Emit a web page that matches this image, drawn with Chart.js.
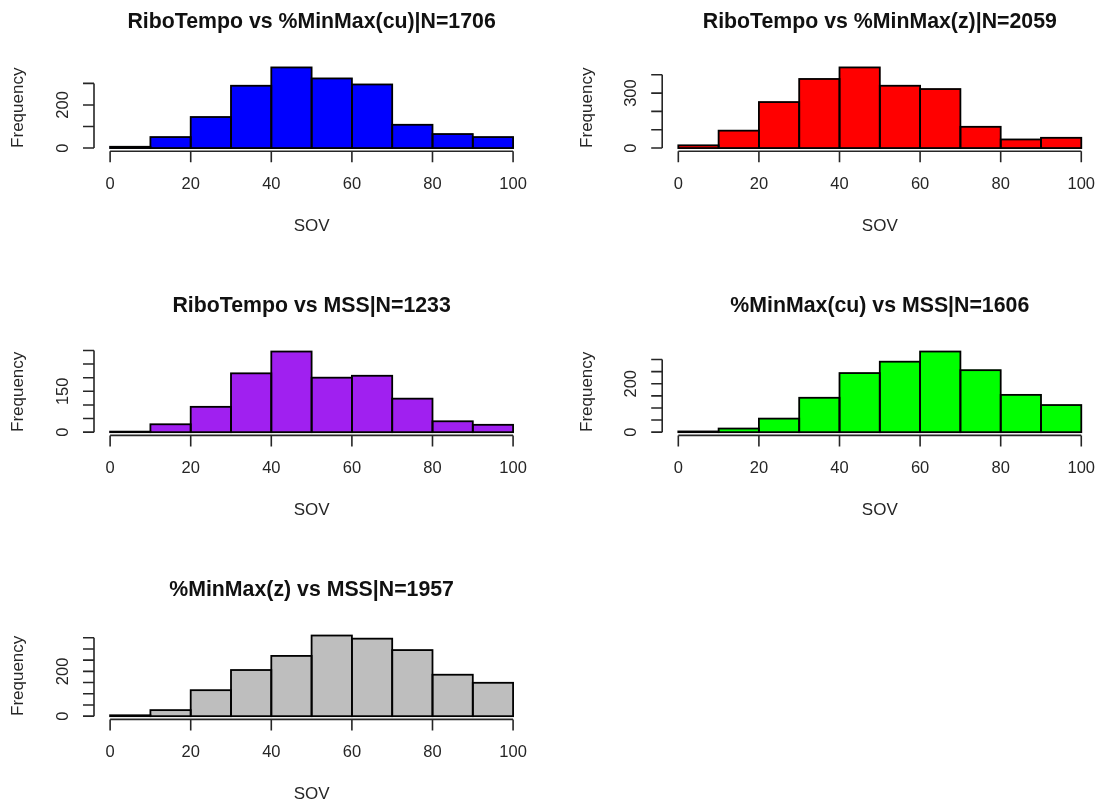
<!DOCTYPE html>
<html>
<head>
<meta charset="utf-8">
<title>SOV histograms</title>
<script src="https://cdn.jsdelivr.net/npm/chart.js@4.4.1/dist/chart.umd.min.js"></script>
<style>
  html, body { margin: 0; padding: 0; background: #ffffff; }
  #wrap { position: relative; width: 1100px; height: 805px; overflow: hidden; background: #ffffff; }
  #wrap canvas { position: absolute; left: 0; top: 0; }
</style>
</head>
<body>
<div id="wrap"></div>
<script>
// ---- data ---------------------------------------------------------------
// SOV bins (left edges, width 10)
const binStarts = [0, 10, 20, 30, 40, 50, 60, 70, 80, 90];
const binWidth = 10;
const xTicks = [0, 20, 40, 60, 80, 100];

const titles = [
  "RiboTempo vs %MinMax(cu)|N=1706",
  "RiboTempo vs %MinMax(z)|N=2059",
  "RiboTempo vs MSS|N=1233",
  "%MinMax(cu) vs MSS|N=1606",
  "%MinMax(z) vs MSS|N=1957"
];

const countsCuRibo  = [6, 51, 144, 289, 374, 323, 295, 108, 65, 51];
const countsZRibo   = [15, 95, 251, 377, 440, 340, 322, 116, 47, 56];
const countsMssRibo = [2, 29, 93, 216, 296, 200, 207, 123, 40, 27];
const countsMssCu   = [3, 15, 56, 142, 244, 291, 333, 256, 154, 112];
const countsMssZ    = [4, 27, 116, 206, 269, 360, 346, 295, 185, 149];

const yTicksCuRibo  = [0, 100, 200, 300];
const yTicksZRibo   = [0, 100, 200, 300, 400];
const yTicksMssRibo = [0, 50, 100, 150, 200, 250, 300];
const yTicksMssCu   = [0, 50, 100, 150, 200, 250, 300];
const yTicksMssZ    = [0, 50, 100, 150, 200, 250, 300, 350];

const yLabelsCuRibo  = [0, 200];
const yLabelsZRibo   = [0, 300];
const yLabelsMssRibo = [0, 150];
const yLabelsMssCu   = [0, 200];
const yLabelsMssZ    = [0, 200];

const fills = ["#0000FF", "#FF0000", "#A020F0", "#00FF00", "#BEBEBE"];

const xTitle = "SOV";
const yTitle = "Frequency";

// ---- layout (plot regions on the 1100x805 page) -------------------------
const W = 1100, H = 805;
const cols = [[94.0, 529.2], [662.2, 1097.4]];
const rows = [[64.2, 151.3], [348.3, 435.4], [632.3, 719.4]];

const panels = [
  { counts: countsCuRibo,  yTicks: yTicksCuRibo,  yLabels: yLabelsCuRibo,  col: 0, row: 0 },
  { counts: countsZRibo,   yTicks: yTicksZRibo,   yLabels: yLabelsZRibo,   col: 1, row: 0 },
  { counts: countsMssRibo, yTicks: yTicksMssRibo, yLabels: yLabelsMssRibo, col: 0, row: 1 },
  { counts: countsMssCu,   yTicks: yTicksMssCu,   yLabels: yLabelsMssCu,   col: 1, row: 1 },
  { counts: countsMssZ,    yTicks: yTicksMssZ,    yLabels: yLabelsMssZ,    col: 0, row: 2 }
];

const FONT = '"Liberation Sans", Arial, Helvetica, sans-serif';
const AXIS_FS = 16.5;
const TITLE_FS = 21.3;

// Base-graphics style frame: bar outlines, detached axes, labels, title
const rStyleFrame = {
  id: 'rStyleFrame',
  afterDatasetsDraw(chart) {
    const ctx = chart.ctx;
    const meta = chart.getDatasetMeta(0);
    ctx.save();
    ctx.strokeStyle = '#000000';
    ctx.lineWidth = 1.8;
    ctx.lineJoin = 'miter';
    meta.data.forEach(bar => {
      const p = bar.getProps(['x', 'y', 'base', 'width'], true);
      ctx.strokeRect(p.x - p.width / 2, p.y, p.width, p.base - p.y);
    });
    ctx.restore();
  },
  afterDraw(chart) {
    const ctx = chart.ctx;
    const opts = chart.options.plugins.rStyleFrame;
    const xs = chart.scales.x, ys = chart.scales.y;
    const area = chart.chartArea;
    const left = area.left, bottom = area.bottom, top = area.top;
    const cx = (area.left + area.right) / 2;
    const cy = (area.top + area.bottom) / 2;
    const tick = 11;

    ctx.save();
    ctx.strokeStyle = '#262626';
    ctx.fillStyle = '#262626';
    ctx.lineWidth = 1.6;
    ctx.lineCap = 'butt';

    // x axis
    const x0 = xs.getPixelForValue(opts.xTicks[0]);
    const x1 = xs.getPixelForValue(opts.xTicks[opts.xTicks.length - 1]);
    ctx.beginPath();
    ctx.moveTo(x0, bottom); ctx.lineTo(x1, bottom);
    opts.xTicks.forEach(v => {
      const px = xs.getPixelForValue(v);
      ctx.moveTo(px, bottom); ctx.lineTo(px, bottom + tick);
    });
    ctx.stroke();

    // y axis
    const y0 = ys.getPixelForValue(opts.yTicks[0]);
    const y1 = ys.getPixelForValue(opts.yTicks[opts.yTicks.length - 1]);
    ctx.beginPath();
    ctx.moveTo(left, y0); ctx.lineTo(left, y1);
    opts.yTicks.forEach(v => {
      const py = ys.getPixelForValue(v);
      ctx.moveTo(left, py); ctx.lineTo(left - tick, py);
    });
    ctx.stroke();

    // tick labels
    ctx.font = AXIS_FS + 'px ' + FONT;
    ctx.textAlign = 'center';
    ctx.textBaseline = 'alphabetic';
    opts.xTicks.forEach(v => {
      ctx.fillText(String(v), xs.getPixelForValue(v), bottom + 38);
    });
    opts.yLabels.forEach(v => {
      ctx.save();
      ctx.translate(left - 26, ys.getPixelForValue(v));
      ctx.rotate(-Math.PI / 2);
      ctx.fillText(String(v), 0, 0);
      ctx.restore();
    });

    // axis titles
    ctx.font = '17px ' + FONT;
    ctx.fillText(opts.xTitle, cx, bottom + 80);
    ctx.save();
    ctx.translate(left - 70.7, cy);
    ctx.rotate(-Math.PI / 2);
    ctx.fillText(opts.yTitle, 0, 0);
    ctx.restore();

    // main title
    ctx.fillStyle = '#111111';
    ctx.font = 'bold ' + TITLE_FS + 'px ' + FONT;
    ctx.fillText(opts.title, cx, top - 36);
    ctx.restore();
  }
};

const wrap = document.getElementById('wrap');

panels.forEach((pn, i) => {
  const canvas = document.createElement('canvas');
  canvas.width = W; canvas.height = H;
  canvas.style.width = W + 'px'; canvas.style.height = H + 'px';
  wrap.appendChild(canvas);

  const [pl, pr] = cols[pn.col];
  const [pt, pb] = rows[pn.row];
  const yMax = Math.max(...pn.counts);
  const xMin = binStarts[0];
  const xMax = binStarts[binStarts.length - 1] + binWidth;
  const xPad = 0.04 * (xMax - xMin);

  new Chart(canvas, {
    type: 'bar',
    data: {
      datasets: [{
        data: binStarts.map((b, k) => ({ x: b + binWidth / 2, y: pn.counts[k] })),
        backgroundColor: fills[i],
        borderWidth: 0,
        barPercentage: 1,
        categoryPercentage: 1
      }]
    },
    options: {
      responsive: false,
      animation: false,
      devicePixelRatio: 1,
      events: [],
      layout: { padding: { left: pl, right: W - pr, top: pt, bottom: H - pb } },
      plugins: {
        legend: { display: false },
        tooltip: { enabled: false },
        title: { display: false },
        rStyleFrame: {
          title: titles[i],
          xTicks: xTicks,
          yTicks: pn.yTicks,
          yLabels: pn.yLabels,
          xTitle: xTitle,
          yTitle: yTitle
        }
      },
      scales: {
        x: { type: 'linear', min: xMin - xPad, max: xMax + xPad, display: false, offset: false },
        y: { type: 'linear', min: -0.04 * yMax, max: 1.04 * yMax, display: false }
      }
    },
    plugins: [rStyleFrame]
  });
});
</script>
</body>
</html>
